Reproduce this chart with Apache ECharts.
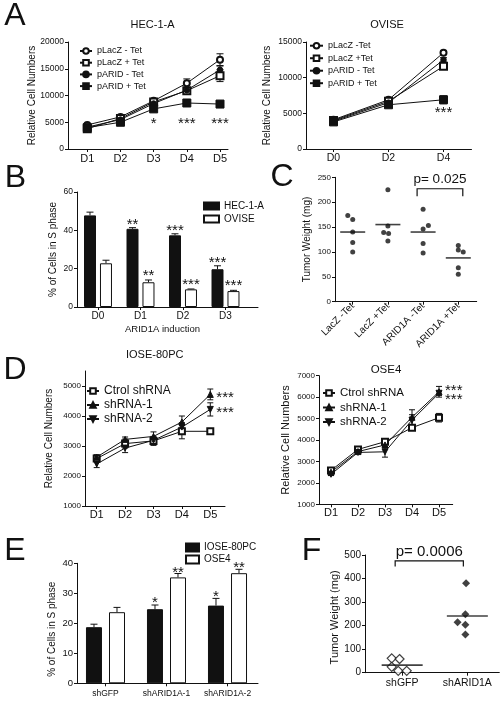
<!DOCTYPE html>
<html><head><meta charset="utf-8">
<script src="https://cdn.jsdelivr.net/npm/echarts@6/dist/echarts.min.js"></script>
<style>html,body{margin:0;padding:0;background:#fff}#c{width:503px;height:701px}</style>
</head><body><div id="c"></div>
<script>
const FONT = '"Liberation Sans", Arial, Helvetica, sans-serif';
const INK = '#111';

// ---------- Panel A : HEC-1-A ----------
const hecDays = ['D1','D2','D3','D4','D5'];
const hecYTicks = [0, 5000, 10000, 15000, 20000];
const hecLacZMinus = [4500, 6000, 9000, 12300, 16700];
const hecLacZMinusErr = [150, 200, 300, 800, 1100];
const hecLacZPlus = [3800, 5700, 8800, 10900, 13700];
const hecLacZPlusErr = [150, 200, 300, 400, 1100];
const hecARIDMinus = [4100, 5500, 8500, 11000, 14800];
const hecARIDMinusErr = [100, 150, 250, 300, 700];
const hecARIDPlus = [4000, 5000, 7500, 8600, 8400];
const hecARIDPlusErr = [200, 200, 400, 400, 300];
const hecStars = ['', '', '*', '***', '***'];
const hecStarLevel = 5250;

// ---------- Panel A : OVISE ----------
const oviseDays = ['D0','D2','D4'];
const oviseYTicks = [0, 5000, 10000, 15000];
const oviseLacZMinus = [4100, 6900, 13500];
const oviseLacZMinusErr = [100, 150, 250];
const oviseLacZPlus = [4000, 6700, 11600];
const oviseLacZPlusErr = [100, 150, 250];
const oviseARIDMinus = [3900, 6500, 12500];
const oviseARIDMinusErr = [100, 150, 300];
const oviseARIDPlus = [3800, 6200, 6900];
const oviseARIDPlusErr = [150, 150, 550];
const oviseStars = ['', '', '***'];
const oviseStarLevel = 5450;

// ---------- Panel B ----------
const bDays = ['D0','D1','D2','D3'];
const bYTicks = [0, 20, 40, 60];
const bHEC = [47.8, 40.8, 37.4, 19.7];
const bHECErr = [1.7, 0.6, 0.8, 1.8];
const bOVISE = [22.8, 12.9, 9.2, 8.3];
const bOVISEErr = [1.6, 1.2, 0.2, 0.4];
const bHECStars = ['', '**', '***', '***'];
const bOVISEStars = ['', '**', '***', '***'];

// ---------- Panel C ----------
const cGroups = ['LacZ -Tet','LacZ +Tet','ARID1A -Tet','ARID1A +Tet'];
const cYTicks = [0, 50, 100, 150, 200, 250];
const cLacZMinus = [173, 165, 140, 119, 100];
const cLacZPlus = [225, 152, 139, 137, 122];
const cARIDMinus = [186, 153, 146, 117, 98];
const cARIDPlus = [113, 104, 100, 68, 55];
const cMeans = [140, 155, 140, 88];
const cJitter = [[-0.14,0,0,0,0],[0,0,-0.12,0.02,0],[0,0.15,0,0,0],[0,0,0.14,0,0]];
const cPText = 'p= 0.025';
const cPPair = [2, 3];
const cPLevel = 227;

// ---------- Panel D : IOSE-80PC ----------
const dDays = ['D1','D2','D3','D4','D5'];
const ioseYTicks = [1000, 2000, 3000, 4000, 5000];
const ioseCtrl = [2580, 3080, 3170, 3490, 3490];
const ioseCtrlErr = [100, 150, 150, 250, 40];
const ioseSh1 = [2630, 3220, 3320, 3800, 4720];
const ioseSh1Err = [80, 80, 150, 200, 180];
const ioseSh2 = [2400, 2930, 3190, 3630, 4220];
const ioseSh2Err = [120, 150, 100, 150, 220];
const ioseStarText = ['***', '***'];
const ioseStarLevels = [4720, 4220];

// ---------- Panel D : OSE4 ----------
const oseYTicks = [1000, 2000, 3000, 4000, 5000, 6000, 7000];
const oseCtrl = [2580, 3560, 3920, 4575, 5040];
const oseCtrlErr = [80, 60, 80, 60, 200];
const oseSh1 = [2500, 3460, 3770, 5060, 6250];
const oseSh1Err = [60, 60, 100, 350, 250];
const oseSh2 = [2400, 3420, 3450, 4930, 6180];
const oseSh2Err = [60, 60, 250, 250, 100];
const oseStarText = ['***', '***'];
const oseStarLevels = [6420, 5990];

// ---------- Panel E ----------
const eGroups = ['shGFP','shARID1A-1','shARID1A-2'];
const eYTicks = [0, 10, 20, 30, 40];
const eIOSE = [18.7, 24.7, 25.9];
const eIOSEErr = [1.0, 1.4, 2.4];
const eOSE4 = [23.7, 35.3, 36.7];
const eOSE4Err = [1.6, 1.3, 1.3];
const eIOSEStars = ['', '*', '*'];
const eOSE4Stars = ['', '**', '**'];

// ---------- Panel F ----------
const fGroups = ['shGFP','shARID1A'];
const fYTicks = [0, 100, 200, 300, 400, 500];
const fShGFP = [61, 58, 25, 8, 8];
const fShARID = [380, 248, 214, 204, 162];
const fMeans = [32, 241];
const fJitter = [[-0.16,-0.04,-0.16,-0.06,0.07],[-0.02,-0.03,-0.15,-0.03,-0.03]];
const fPText = 'p= 0.0006';
const fPPair = [0, 1];
const fPLevel = 475;

// ================= helpers =================
const grids = [
  {left:68, top:42, width:160, height:107},
  {left:306, top:42, width:165.5, height:107},
  {left:77, top:192, width:181, height:115},
  {left:335, top:177.3, width:141.7, height:124.4},
  {left:85, top:371, width:140, height:135},
  {left:319, top:375.7, width:133.7, height:128.6},
  {left:77, top:563.3, width:181, height:120},
  {left:365, top:555, width:134.3, height:117.7}
].map(g => Object.assign({outerBoundsMode:'none', containLabel:false, show:false}, g));

function xAx(gi, min, max, cats, fs, margin, extra) {
  const idx = cats.map((_, i) => i);
  return Object.assign({
    type:'value', gridIndex:gi, min:min, max:max,
    axisLine:{show:true, onZero:false, lineStyle:{color:INK, width:1}},
    axisTick:{show:true, length:3, customValues:idx, lineStyle:{color:INK, width:1}},
    axisLabel:{show:true, customValues:idx, formatter:v => cats[Math.round(v)] || '',
      fontSize:fs, fontFamily:FONT, color:INK, margin:margin},
    splitLine:{show:false}
  }, extra || {});
}
function yAx(gi, min, max, ticks, name, nameDist, fs, nfs, pad) {
  return {
    type:'value', gridIndex:gi, min:min, max:max,
    name:name, nameLocation:'middle', nameGap:nameDist - nfs/2, nameRotate:90, nameMoveOverlap:false,
    nameTextStyle:{fontSize:nfs, fontFamily:FONT, color:INK, padding:pad || 0},
    axisLine:{show:true, onZero:false, lineStyle:{color:INK, width:1}},
    axisTick:{show:true, length:3, customValues:ticks, lineStyle:{color:INK, width:1}},
    axisLabel:{show:true, customValues:ticks, formatter:v => String(v),
      fontSize:fs, fontFamily:FONT, color:INK, margin:4},
    splitLine:{show:false}
  };
}
function lineSer(name, gi, vals, symbol, size, extra) {
  return Object.assign({
    type:'line', name:name, xAxisIndex:gi, yAxisIndex:gi,
    data: vals.map((v, i) => [i, v]),
    symbol:symbol, symbolSize:size, showSymbol:true,
    lineStyle:{color:INK, width:1},
    itemStyle:{color:INK, borderColor:INK, borderWidth:1},
    z:3, emphasis:{disabled:true}
  }, extra || {});
}
function errSer(gi, vals, errs, offsetPx, capW, upOnly) {
  return {
    type:'custom', xAxisIndex:gi, yAxisIndex:gi, silent:true, z:2, clip:false,
    data: vals.map((v, i) => [i, v, errs[i]]),
    renderItem(params, api) {
      const x = api.value(0), v = api.value(1), e = api.value(2);
      if (!e) return null;
      const p0 = api.coord([x, v]);
      const pt = api.coord([x, v + e]);
      const pb = api.coord([x, upOnly ? v : v - e]);
      const cx = p0[0] + offsetPx;
      const st = {stroke:INK, lineWidth:1};
      const ch = [
        {type:'line', shape:{x1:cx, y1:pb[1], x2:cx, y2:pt[1]}, style:st},
        {type:'line', shape:{x1:cx - capW/2, y1:pt[1], x2:cx + capW/2, y2:pt[1]}, style:st}
      ];
      if (!upOnly) ch.push({type:'line', shape:{x1:cx - capW/2, y1:pb[1], x2:cx + capW/2, y2:pb[1]}, style:st});
      return {type:'group', children:ch};
    }
  };
}
function starSer(gi, xs, ys, texts, dx, dy, fs, align) {
  return {
    type:'custom', xAxisIndex:gi, yAxisIndex:gi, silent:true, z:5, clip:false,
    data: xs.map((x, i) => [x, ys[i]]),
    renderItem(params, api) {
      const t = texts[params.dataIndex];
      if (!t) return null;
      const p = api.coord([api.value(0), api.value(1)]);
      return {type:'text', x:p[0] + dx, y:p[1] + dy + 0.2 * fs,
        style:{text:t, fill:INK, fontSize:fs, fontFamily:FONT, align:align || 'center', verticalAlign:'middle'}};
    }
  };
}
function bracketSer(gi, pair, level, text, drop, extL, extR, fs, gap) {
  return {
    type:'custom', xAxisIndex:gi, yAxisIndex:gi, silent:true, z:5, clip:false,
    data: [[pair[0], pair[1], level]],
    renderItem(params, api) {
      const a = api.coord([api.value(0), api.value(2)]);
      const b = api.coord([api.value(1), api.value(2)]);
      const x1 = a[0] - extL, x2 = b[0] + extR, y = a[1];
      return {type:'group', children:[
        {type:'polyline', shape:{points:[[x1, y + drop], [x1, y], [x2, y], [x2, y + drop]]},
          style:{stroke:INK, lineWidth:1.2, fill:null}},
        {type:'text', x:(x1 + x2) / 2, y:y - gap,
          style:{text:text, fill:INK, fontSize:fs, fontFamily:FONT, align:'center', verticalAlign:'middle'}}
      ]};
    }
  };
}
const idxOf = arr => arr.map((_, i) => i);
const fill = (arr, v) => arr.map(() => v);

const xAxes = [
  xAx(0, -0.581, 4.241, hecDays, 11, 4.5),
  xAx(1, -0.5, 2.509, oviseDays, 10.5, 4),
  xAx(2, -0.494, 3.765, bDays, 10, 4.7, {name:'ARID1A induction', nameLocation:'middle', nameGap:17,
      nameTextStyle:{fontSize:9.5, fontFamily:FONT, color:INK, padding:[0, 10, 0, 0]}}),
  xAx(3, -0.503, 3.523, cGroups, 10, 3, {}),
  xAx(4, -0.412, 4.518, dDays, 11, 3.5),
  xAx(5, -0.444, 4.507, dDays, 11, 3.5),
  xAx(6, -0.467, 2.5, eGroups, 8.5, 5.5),
  xAx(7, -0.57, 1.49, fGroups, 10.5, 5)
];
xAxes[3].axisLabel.rotate = 45;

const yAxes = [
  yAx(0, 0, 20000, hecYTicks, 'Relative Cell Numbers', 36, 8.5, 10),
  yAx(1, 0, 15000, oviseYTicks, 'Relative Cell Numbers', 39, 8.5, 10),
  yAx(2, 0, 60, bYTicks, '% of Cells in S phase', 24, 8.5, 10),
  yAx(3, 0, 250, cYTicks, 'Tumor Weight (mg)', 27.5, 8, 10),
  yAx(4, 1000, 5500, ioseYTicks, 'Relative Cell Numbers', 35.5, 8, 10),
  yAx(5, 1000, 7000, oseYTicks, 'Relative Cell Numbers', 33, 8, 11),
  yAx(6, 0, 40, eYTicks, '% of Cells in S phase', 25, 9.5, 10, [0, 12, 0, 0]),
  yAx(7, 0, 500, fYTicks, 'Tumor Weight (mg)', 30.3, 10, 11, [0, 7, 0, 0])
];

const invTri = 'path://M0,0L10,0L5,8.66Z';
const series = [];

// A1
series.push(errSer(0, hecLacZMinus, hecLacZMinusErr, 0, 7, false));
series.push(errSer(0, hecLacZPlus, hecLacZPlusErr, 0, 7, false));
series.push(errSer(0, hecARIDMinus, hecARIDMinusErr, 0, 7, false));
series.push(errSer(0, hecARIDPlus, hecARIDPlusErr, 0, 7, false));
series.push(lineSer('pLacZ - Tet', 0, hecLacZMinus, 'emptyCircle', 6));
series.push(lineSer('pLacZ + Tet', 0, hecLacZPlus, 'emptyRect', 7));
series.push(lineSer('pARID - Tet', 0, hecARIDMinus, 'circle', 5.5));
series.push(lineSer('pARID + Tet', 0, hecARIDPlus, 'rect', 8));
series.push(starSer(0, idxOf(hecDays), fill(hecDays, hecStarLevel), hecStars, 0, 0, 15));

// A2
series.push(errSer(1, oviseLacZMinus, oviseLacZMinusErr, 0, 7, false));
series.push(errSer(1, oviseLacZPlus, oviseLacZPlusErr, 0, 7, false));
series.push(errSer(1, oviseARIDMinus, oviseARIDMinusErr, 0, 7, false));
series.push(errSer(1, oviseARIDPlus, oviseARIDPlusErr, 0, 7, false));
series.push(lineSer('pLacZ -Tet', 1, oviseLacZMinus, 'emptyCircle', 6));
series.push(lineSer('pLacZ +Tet', 1, oviseLacZPlus, 'emptyRect', 7));
series.push(lineSer('pARID - Tet', 1, oviseARIDMinus, 'circle', 5.5));
series.push(lineSer('pARID + Tet', 1, oviseARIDPlus, 'rect', 8));
series.push(starSer(1, idxOf(oviseDays), fill(oviseDays, oviseStarLevel), oviseStars, 0, 0, 15));

// B
series.push({type:'bar', name:'HEC-1-A', xAxisIndex:2, yAxisIndex:2, data:bHEC.map((v, i) => [i, v]),
  barWidth:12, barGap:'33%', itemStyle:{color:INK, borderColor:INK, borderWidth:1}, emphasis:{disabled:true}});
series.push({type:'bar', name:'OVISE', xAxisIndex:2, yAxisIndex:2, data:bOVISE.map((v, i) => [i, v]),
  barWidth:12, barGap:'33%', itemStyle:{color:'#fff', borderColor:INK, borderWidth:1}, emphasis:{disabled:true}});
series.push(errSer(2, bHEC, bHECErr, -8, 7, true));
series.push(errSer(2, bOVISE, bOVISEErr, 8, 7, true));
series.push(starSer(2, idxOf(bDays), bHEC.map((v, i) => v + bHECErr[i]), bHECStars, -8, -6, 15));
series.push(starSer(2, idxOf(bDays), bOVISE.map((v, i) => v + bOVISEErr[i]), bOVISEStars, 8, -7, 15));

// C
[cLacZMinus, cLacZPlus, cARIDMinus, cARIDPlus].forEach((vals, g) => {
  series.push({type:'scatter', name:cGroups[g], xAxisIndex:3, yAxisIndex:3,
    data: vals.map((v, k) => [g + cJitter[g][k], v]),
    symbol:'circle', symbolSize:5, itemStyle:{color:INK}, emphasis:{disabled:true}});
});
series.push({type:'scatter', xAxisIndex:3, yAxisIndex:3, data:cMeans.map((v, i) => [i, v]),
  symbol:'rect', symbolSize:[25, 1.6], itemStyle:{color:INK}, emphasis:{disabled:true}});
series.push(bracketSer(3, cPPair, cPLevel, cPText, 7.5, 6, 4.5, 13.5, 9.5));

// D1
series.push(errSer(4, ioseCtrl, ioseCtrlErr, 0, 6, false));
series.push(errSer(4, ioseSh1, ioseSh1Err, 0, 6, false));
series.push(errSer(4, ioseSh2, ioseSh2Err, 0, 6, false));
series.push(lineSer('Ctrol shRNA', 4, ioseCtrl, 'emptyRect', 6));
series.push(lineSer('shRNA-1', 4, ioseSh1, 'triangle', 6));
series.push(lineSer('shRNA-2', 4, ioseSh2, invTri, 6));
series.push(starSer(4, [4, 4], ioseStarLevels, ioseStarText, 6, 0, 15, 'left'));

// D2
series.push(errSer(5, oseCtrl, oseCtrlErr, 0, 6, false));
series.push(errSer(5, oseSh1, oseSh1Err, 0, 6, false));
series.push(errSer(5, oseSh2, oseSh2Err, 0, 6, false));
series.push(lineSer('Ctrol shRNA', 5, oseCtrl, 'emptyRect', 6));
series.push(lineSer('shRNA-1', 5, oseSh1, 'triangle', 6));
series.push(lineSer('shRNA-2', 5, oseSh2, invTri, 6));
series.push(starSer(5, [4, 4], oseStarLevels, oseStarText, 6, 0, 15, 'left'));

// E
series.push({type:'bar', name:'IOSE-80PC', xAxisIndex:6, yAxisIndex:6, data:eIOSE.map((v, i) => [i, v]),
  barWidth:16, barGap:'44%', itemStyle:{color:INK, borderColor:INK, borderWidth:1}, emphasis:{disabled:true}});
series.push({type:'bar', name:'OSE4', xAxisIndex:6, yAxisIndex:6, data:eOSE4.map((v, i) => [i, v]),
  barWidth:16, barGap:'44%', itemStyle:{color:'#fff', borderColor:INK, borderWidth:1}, emphasis:{disabled:true}});
series.push(errSer(6, eIOSE, eIOSEErr, -11.5, 7, true));
series.push(errSer(6, eOSE4, eOSE4Err, 11.5, 7, true));
series.push(starSer(6, idxOf(eGroups), eIOSE.map((v, i) => v + eIOSEErr[i]), eIOSEStars, -11.5, -5, 15));
series.push(starSer(6, idxOf(eGroups), eOSE4.map((v, i) => v + eOSE4Err[i]), eOSE4Stars, 11.5, -4, 15));

// F
series.push({type:'scatter', name:'shGFP', xAxisIndex:7, yAxisIndex:7,
  data: fShGFP.map((v, k) => [0 + fJitter[0][k], v]), symbol:'diamond', symbolSize:[9, 9],
  itemStyle:{color:'#fff', borderColor:INK, borderWidth:1.2}, emphasis:{disabled:true}});
series.push({type:'scatter', name:'shARID1A', xAxisIndex:7, yAxisIndex:7,
  data: fShARID.map((v, k) => [1 + fJitter[1][k], v]), symbol:'diamond', symbolSize:[8, 8],
  itemStyle:{color:INK}, emphasis:{disabled:true}});
series.push({type:'scatter', xAxisIndex:7, yAxisIndex:7, data:fMeans.map((v, i) => [i, v]),
  symbol:'rect', symbolSize:[41, 1.6], itemStyle:{color:INK}, emphasis:{disabled:true}});
series.push(bracketSer(7, fPPair, fPLevel, fPText, 5.5, 7, -4, 15, 9.5));

const legTxt = fs => ({fontSize:fs, fontFamily:FONT, color:INK});
const legends = [
  {data:['pLacZ - Tet','pLacZ + Tet','pARID - Tet','pARID + Tet'], left:79, top:46.5,
   itemWidth:12, itemHeight:7, itemGap:2.7, textStyle:legTxt(9)},
  {data:['pLacZ -Tet','pLacZ +Tet','pARID - Tet','pARID + Tet'], left:309, top:41.2,
   itemWidth:13, itemHeight:7, itemGap:3.5, textStyle:legTxt(9)},
  {data:['HEC-1-A','OVISE'], left:203, top:201, icon:'rect',
   itemWidth:15, itemHeight:7, itemGap:3, textStyle:legTxt(10)},
  {data:['Ctrol shRNA','shRNA-1','shRNA-2'], left:86, top:385,
   itemWidth:12, itemHeight:7, itemGap:2, textStyle:legTxt(12)},
  {data:['Ctrol shRNA','shRNA-1','shRNA-2'], left:322, top:387,
   itemWidth:12, itemHeight:7, itemGap:2.5, textStyle:legTxt(11.5)},
  {data:['IOSE-80PC','OSE4'], left:185, top:542.5, icon:'rect',
   itemWidth:13, itemHeight:8, itemGap:2, textStyle:legTxt(10)}
].map(l => Object.assign({orient:'vertical', padding:0, selectedMode:false, inactiveColor:INK}, l));

const gText = (x, y, t, fs) => ({type:'text', x:x, y:y, silent:true,
  style:{text:t, fontSize:fs, fontFamily:FONT, fill:INK, align:'center', verticalAlign:'middle'}});

const option = {
  animation:false,
  backgroundColor:'#fff',
  textStyle:{fontFamily:FONT},
  grid:grids,
  xAxis:xAxes,
  yAxis:yAxes,
  legend:legends,
  series:series,
  graphic:[
    gText(15, 16.5, 'A', 32), gText(15.5, 178, 'B', 32), gText(282, 177.5, 'C', 32),
    gText(15, 370, 'D', 32), gText(15, 551.5, 'E', 32), gText(311.5, 551.5, 'F', 32),
    gText(152.5, 25, 'HEC-1-A', 11), gText(387, 25, 'OVISE', 11),
    gText(154.7, 355, 'IOSE-80PC', 11), gText(386, 370, 'OSE4', 11.5)
  ]
};
const chart = echarts.init(document.getElementById('c'), null, {renderer:'canvas'});
chart.setOption(option);
</script></body></html>
